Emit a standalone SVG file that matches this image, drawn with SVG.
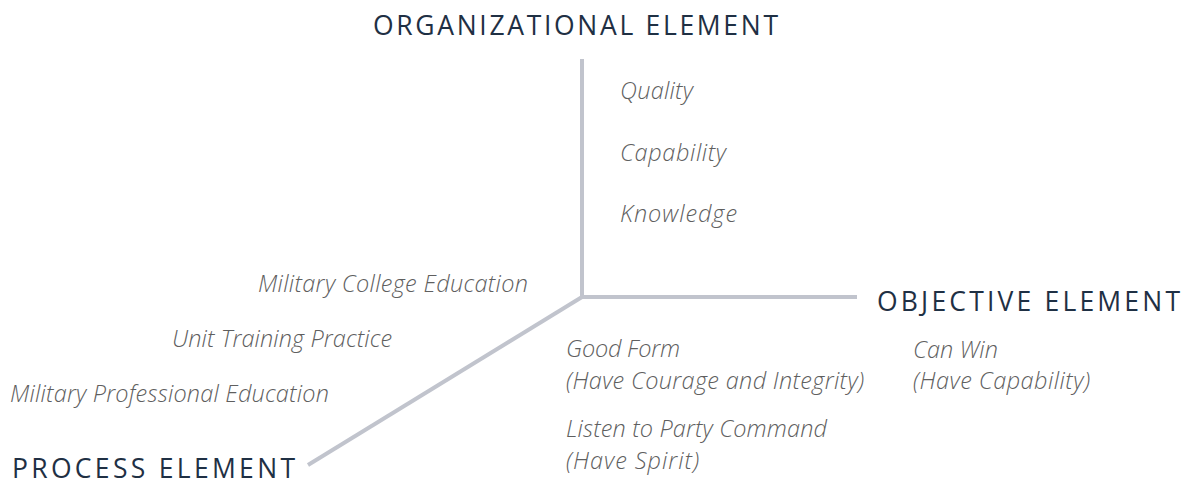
<svg xmlns="http://www.w3.org/2000/svg" width="1191" height="487" viewBox="0 0 1191 487">
<style>
.h{font-family:"Open Sans","Liberation Sans",sans-serif;font-size:26.5px;fill:#1f3044}
.t{font-family:"Open Sans","Liberation Sans",sans-serif;font-size:23.5px;font-style:italic;font-weight:300;fill:#5f5f5f}
.ax{stroke:#c1c4cd;stroke-width:4;fill:none}
</style>
<rect width="1191" height="487" fill="#ffffff"/>
<g id="axes">
<line class="ax" x1="582" y1="59" x2="582" y2="297"/>
<line class="ax" x1="580" y1="297" x2="857" y2="297"/>
<line class="ax" x1="582" y1="297" x2="308" y2="465"/>
</g>
<g id="organizational">
<text class="h" x="373" y="35" textLength="405" lengthAdjust="spacing">ORGANIZATIONAL ELEMENT</text>
<text class="t" x="620" y="99" textLength="73" lengthAdjust="spacing">Quality</text>
<text class="t" x="620" y="161" textLength="106" lengthAdjust="spacing">Capability</text>
<text class="t" x="620" y="222" textLength="117" lengthAdjust="spacing">Knowledge</text>
</g>
<g id="objective">
<text class="h" x="877" y="311" textLength="303" lengthAdjust="spacing">OBJECTIVE ELEMENT</text>
<text class="t" x="566" y="357" textLength="114" lengthAdjust="spacing">Good Form</text>
<text class="t" x="566" y="389" textLength="298" lengthAdjust="spacing">(Have Courage and Integrity)</text>
<text class="t" x="566" y="437" textLength="261" lengthAdjust="spacing">Listen to Party Command</text>
<text class="t" x="566" y="469" textLength="133" lengthAdjust="spacing">(Have Spirit)</text>
<text class="t" x="913" y="358" textLength="85" lengthAdjust="spacing">Can Win</text>
<text class="t" x="913" y="389" textLength="177" lengthAdjust="spacing">(Have Capability)</text>
</g>
<g id="process">
<text class="h" x="12" y="478" textLength="283" lengthAdjust="spacing">PROCESS ELEMENT</text>
<text class="t" x="258" y="292" textLength="270" lengthAdjust="spacing">Military College Education</text>
<text class="t" x="172" y="347" textLength="220" lengthAdjust="spacing">Unit Training Practice</text>
<text class="t" x="10" y="402" textLength="319" lengthAdjust="spacing">Military Professional Education</text>
</g>
</svg>
